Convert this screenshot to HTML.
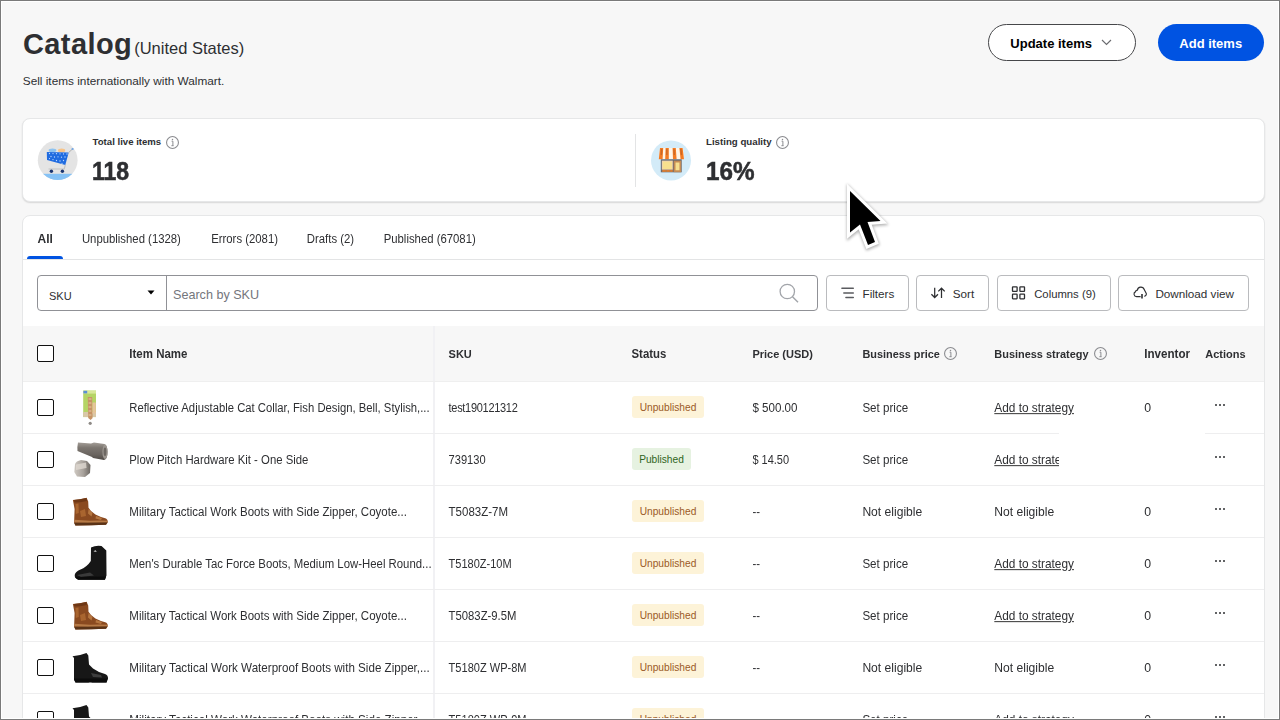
<!DOCTYPE html>
<html><head><meta charset="utf-8"><style>
*{box-sizing:border-box;margin:0;padding:0}
html,body{width:1280px;height:720px;overflow:hidden;background:#f7f7f7;font-family:"Liberation Sans",sans-serif}
.t{position:absolute;white-space:nowrap}
.abs{position:absolute}
.btn-o{position:absolute;border:1px solid #46474a;border-radius:20px;background:#fff;box-sizing:content-box}
.btn-b{position:absolute;border-radius:20px;background:#0053e2}
.card{position:absolute;background:#fff;border:1px solid #e6e7e8;border-radius:8px;box-shadow:0 1px 1.5px rgba(0,0,0,.13)}
.card2{position:absolute;background:#fff;border:1px solid #e6e7e8;border-radius:8px}
.box{position:absolute;border:1px solid #babbbe;border-radius:4px;background:#fff}
.info{position:absolute;width:12px;height:12px;border:1px solid #74767c;border-radius:50%}
.info:before{content:"";position:absolute;left:4.5px;top:2px;width:1px;height:1px;background:#74767c}
.info:after{content:"";position:absolute;left:4.5px;top:4px;width:1px;height:5px;background:#74767c}
.cb{position:absolute;width:17px;height:17px;border:1.5px solid #111;border-radius:2px;background:#fff}
.badge{position:absolute;height:22px;border-radius:3px;font-size:10.2px;line-height:24px;text-align:center}
.bu{background:#fdf3d8;color:#9b5a26}
.bp{background:#e6f2e1;color:#2f6521}
.dots{position:absolute;width:12px;height:3px}
.dots i{position:absolute;top:0;width:2px;height:2px;border-radius:50%;background:#2e2f32}
.dots i:nth-child(1){left:0.6px}.dots i:nth-child(2){left:4.8px}.dots i:nth-child(3){left:8.9px}
.frame{position:absolute;left:0;top:0;width:1280px;height:720px;border:1px solid #7a7a7a;box-shadow:inset 0 0 0 1px #fff;pointer-events:none;z-index:50}
</style></head>
<body>
<div class="t" style="left:23px;top:30.00px;font-size:29px;line-height:29px;font-weight:700;color:#2e2f32;letter-spacing:0.4px">Catalog</div>
<div class="t" style="left:134.2px;top:40.00px;font-size:16.5px;line-height:16.5px;font-weight:400;color:#2e2f32;">(United States)</div>
<div class="t" style="left:22.8px;top:76.00px;font-size:11.8px;line-height:11.8px;font-weight:400;color:#2e2f32;">Sell items internationally with Walmart.</div>
<div class="btn-o" style="left:988px;top:24px;width:146px;height:35px"></div>
<div class="t" style="left:1010.3px;top:37.00px;font-size:13px;line-height:13px;font-weight:700;color:#000;">Update items</div>
<svg class="abs" style="left:1101px;top:39px" width="11" height="7" viewBox="0 0 11 7"><path d="M1 1 L5.5 5.5 L10 1" fill="none" stroke="#6a6b6f" stroke-width="1.15"/></svg>
<div class="btn-b" style="left:1158px;top:24px;width:106px;height:37px"></div>
<div class="t" style="left:1179.3px;top:37.00px;font-size:13px;line-height:13px;font-weight:700;color:#fff;">Add items</div>
<div class="card" style="left:22px;top:118px;width:1243px;height:84px"></div>
<svg class="abs" style="left:37px;top:140px" width="41" height="41" viewBox="0 0 41 41">
<defs><clipPath id="c1"><circle cx="20.7" cy="20.2" r="19.9"/></clipPath></defs>
<circle cx="20.7" cy="20.2" r="19.9" fill="#e4e4e4"/>
<rect x="0" y="33.8" width="41" height="10" fill="#86c2f5" clip-path="url(#c1)"/>
<ellipse cx="15.5" cy="10.3" rx="3.9" ry="1.9" fill="#8ec3f0"/>
<ellipse cx="24.6" cy="10.4" rx="3.6" ry="1.9" fill="#f7c48a"/>
<path d="M9.8 11.9 L31.7 12.5 L28.3 25 L10 20 Z" fill="#1f6be0"/>
<g fill="#bcd8ff"><circle cx="12.5" cy="13.5" r=".65"/><circle cx="16" cy="13.6" r=".65"/><circle cx="19.5" cy="13.7" r=".65"/><circle cx="23" cy="13.8" r=".65"/><circle cx="26.5" cy="13.9" r=".65"/><circle cx="30" cy="14" r=".65"/>
<circle cx="14" cy="16.5" r=".65"/><circle cx="17.5" cy="17" r=".65"/><circle cx="21" cy="16.8" r=".65"/><circle cx="24.5" cy="17.2" r=".65"/><circle cx="28" cy="17" r=".65"/>
<circle cx="12.5" cy="18.6" r=".65"/><circle cx="16" cy="19.6" r=".65"/><circle cx="19.5" cy="20.5" r=".65"/><circle cx="23" cy="21" r=".65"/><circle cx="26.5" cy="20.5" r=".65"/><circle cx="25" cy="23.3" r=".65"/></g>
<path d="M28.3 25 L27.2 29 M11.5 29 H27.5" fill="none" stroke="#c2c2c2" stroke-width="1.1"/>
<path d="M31.7 12.5 L35.3 9.2" stroke="#b0b0b0" stroke-width="1"/>
<circle cx="35.6" cy="9" r="1.1" fill="#6fa6e6"/>
<circle cx="14.4" cy="31.2" r="1.7" fill="#1a3570"/><circle cx="25.4" cy="31.2" r="1.7" fill="#1a3570"/>
</svg>
<div class="t" style="left:92.6px;top:137.00px;font-size:9.6px;line-height:9.6px;font-weight:700;color:#2e2f32;">Total live items</div>
<svg class="abs" style="left:166.1px;top:136.2px" width="13" height="13" viewBox="0 0 13 13"><circle cx="6.5" cy="6.5" r="5.95" fill="none" stroke="#8b8c90" stroke-width="1.1"/><path d="M5.6 5.2 H6.9 V9.6 M5.4 9.7 H7.6" fill="none" stroke="#8b8c90" stroke-width="1"/><circle cx="6.5" cy="3.6" r=".75" fill="#8b8c90"/></svg>
<div class="t" style="left:92.4px;top:158.00px;font-size:26.5px;line-height:26.5px;font-weight:700;color:#2e2f32;transform:scaleX(0.87);transform-origin:0 0;-webkit-text-stroke:0.55px #2e2f32">118</div>
<div class="abs" style="left:635px;top:134px;width:1px;height:53px;background:#e3e4e5"></div>
<svg class="abs" style="left:651px;top:140px" width="41" height="41" viewBox="0 0 41 41">
<circle cx="20" cy="20.4" r="20" fill="#d3ebf8"/>
<path d="M9 8 L32 8 L33 19.3 L7.8 19.3 Z" fill="#fff4e6"/>
<path d="M9 8 L12.2 8 L11.6 19.3 L7.8 19.3 Z M14.6 8 L17.8 8 L17.8 19.3 L14.2 19.3 Z M21.6 8 L24.8 8 L25.6 19.3 L22 19.3 Z M28.4 8 L31.6 8 L33 19.3 L29.6 19.3 Z" fill="#f37a22"/>
<path d="M10 9 L11.4 9 L11 15 L9.6 15 Z M15.2 9 L16.5 9 L16.5 15 L15.2 15 Z M22.3 9 L23.6 9 L24 15 L22.7 15 Z M29.2 9 L30.5 9 L31.2 15 L29.9 15 Z" fill="#b85f28" opacity=".7"/>
<rect x="9.8" y="19.3" width="20.9" height="13" fill="#5d6572"/>
<rect x="10.8" y="20.6" width="11" height="9.2" fill="#f1d3ae"/>
<rect x="11.8" y="21.6" width="9.2" height="7.4" fill="#f8e08e"/>
<rect x="10.8" y="29.8" width="11" height="2.2" fill="#b97d4b"/>
<path d="M12 30.9 H14.5 M15.8 30.9 H18.3 M19.5 30.9 H21.5" stroke="#f37a22" stroke-width="1"/>
<rect x="22.6" y="20.6" width="7.6" height="11.6" fill="#c48b55"/>
<rect x="24.5" y="22.5" width="4" height="7.8" fill="#f6df8e"/>
</svg>
<div class="t" style="left:706px;top:137.00px;font-size:9.7px;line-height:9.7px;font-weight:700;color:#2e2f32;">Listing quality</div>
<svg class="abs" style="left:776px;top:136.4px" width="13" height="13" viewBox="0 0 13 13"><circle cx="6.5" cy="6.5" r="5.95" fill="none" stroke="#8b8c90" stroke-width="1.1"/><path d="M5.6 5.2 H6.9 V9.6 M5.4 9.7 H7.6" fill="none" stroke="#8b8c90" stroke-width="1"/><circle cx="6.5" cy="3.6" r=".75" fill="#8b8c90"/></svg>
<div class="t" style="left:705.9px;top:158.00px;font-size:26.5px;line-height:26.5px;font-weight:700;color:#2e2f32;transform:scaleX(0.915);transform-origin:0 0;-webkit-text-stroke:0.55px #2e2f32">16%</div>
<div class="card2" style="left:22px;top:215px;width:1243px;height:520px"></div>
<div class="t" style="left:37.5px;top:233.00px;font-size:12px;line-height:12px;font-weight:700;color:#2e2f32;;transform:scaleY(1.05);transform-origin:0 10.10px">All</div>
<div class="t" style="left:81.9px;top:234.00px;font-size:11.35px;line-height:11.35px;font-weight:400;color:#2e2f32;;transform:scaleY(1.1);transform-origin:0 9.20px">Unpublished (1328)</div>
<div class="t" style="left:211.2px;top:234.00px;font-size:11.35px;line-height:11.35px;font-weight:400;color:#2e2f32;;transform:scaleY(1.1);transform-origin:0 9.20px">Errors (2081)</div>
<div class="t" style="left:306.8px;top:234.00px;font-size:11.35px;line-height:11.35px;font-weight:400;color:#2e2f32;;transform:scaleY(1.1);transform-origin:0 9.20px">Drafts (2)</div>
<div class="t" style="left:383.7px;top:234.00px;font-size:11.35px;line-height:11.35px;font-weight:400;color:#2e2f32;;transform:scaleY(1.1);transform-origin:0 9.20px">Published (67081)</div>
<div class="abs" style="left:23px;top:259px;width:1241px;height:1px;background:#e3e4e5"></div>
<div class="abs" style="left:27px;top:256px;width:36px;height:3px;background:#0053e2;border-radius:3px 3px 0 0"></div>
<div class="box" style="left:37px;top:275px;width:781px;height:36px;border-color:#909196"></div>
<div class="abs" style="left:166px;top:276px;width:1px;height:34px;background:#909196"></div>
<div class="t" style="left:49px;top:291.00px;font-size:11px;line-height:11px;font-weight:400;color:#2e2f32;">SKU</div>
<svg class="abs" style="left:147px;top:290px" width="8" height="5" viewBox="0 0 8 5"><path d="M0.5 0.5 L7.5 0.5 L4 4.5 Z" fill="#000"/></svg>
<div class="t" style="left:173px;top:289.00px;font-size:12.6px;line-height:12.6px;font-weight:400;color:#74767c;">Search by SKU</div>
<svg class="abs" style="left:777px;top:282px" width="24" height="24" viewBox="0 0 24 24"><circle cx="10.3" cy="9.5" r="7.2" fill="none" stroke="#a2a5aa" stroke-width="1.3"/><path d="M15.5 14.8 L21 20.3" stroke="#a2a5aa" stroke-width="1.4"/></svg>
<div class="box" style="left:826px;top:275px;width:83px;height:36px"></div>
<div class="box" style="left:916px;top:275px;width:73px;height:36px"></div>
<div class="box" style="left:997px;top:275px;width:114px;height:36px"></div>
<div class="box" style="left:1118px;top:275px;width:131px;height:36px"></div>
<svg class="abs" style="left:840px;top:286px" width="16" height="14" viewBox="0 0 16 14"><path d="M1.9 2.3 H13.3 M3.8 6.9 H13.3 M5.9 11.5 H13.3" stroke="#5a5b5f" stroke-width="1.45" stroke-linecap="round"/></svg>
<div class="t" style="left:862.5px;top:288.00px;font-size:11.7px;line-height:11.7px;font-weight:400;color:#2e2f32;">Filters</div>
<svg class="abs" style="left:930px;top:285px" width="17" height="15" viewBox="0 0 17 15"><path d="M4.7 2.8 V12.4 M1.4 9.2 L4.7 12.5 L8 9.2 M11.5 13 V3.3 M8.3 6.4 L11.5 3.2 L14.7 6.4" fill="none" stroke="#2e2f32" stroke-width="1.25"/></svg>
<div class="t" style="left:952.8px;top:288.00px;font-size:11.7px;line-height:11.7px;font-weight:400;color:#2e2f32;">Sort</div>
<svg class="abs" style="left:1011px;top:285px" width="15" height="15" viewBox="0 0 15 15"><g fill="none" stroke="#2e2f32" stroke-width="1.3"><rect x="1.5" y="1.8" width="4.6" height="4.6" rx=".5"/><rect x="8.9" y="1.8" width="4.6" height="4.6" rx=".5"/><rect x="1.5" y="9.2" width="4.6" height="4.6" rx=".5"/><rect x="8.9" y="9.2" width="4.6" height="4.6" rx=".5"/></g></svg>
<div class="t" style="left:1034.2px;top:289.00px;font-size:11.3px;line-height:11.3px;font-weight:400;color:#2e2f32;">Columns (9)</div>
<svg class="abs" style="left:1132px;top:284px" width="17" height="16" viewBox="0 0 17 16"><path d="M8.6 12.6 H4.6 A2.6 2.6 0 0 1 3.6 7.6 A1.6 1.6 0 0 1 5.4 6.2 A3.5 3.5 0 0 1 12.2 5.6 L14.3 9.6 A2.3 2.3 0 0 1 12.2 12.3" fill="none" stroke="#2e2f32" stroke-width="1.15" stroke-linejoin="round"/><path d="M10 10 V14.5" fill="none" stroke="#2e2f32" stroke-width="1.6"/></svg>
<div class="t" style="left:1155.4px;top:288.00px;font-size:11.7px;line-height:11.7px;font-weight:400;color:#2e2f32;">Download view</div>
<div class="abs" style="left:23px;top:326px;width:1241px;height:55px;background:#f7f7f7"></div>
<div class="abs" style="left:433px;top:326px;width:2px;height:400px;background:#f1f1f4"></div>
<div class="abs" style="left:23px;top:380.5px;width:1241px;height:1.5px;background:#efefef"></div>
<div class="cb" style="left:37px;top:345px"></div>
<div class="t" style="left:129.3px;top:349.00px;font-size:11.5px;line-height:11.5px;font-weight:700;color:#2e2f32;;transform:scaleY(1.05);transform-origin:0 9.00px">Item Name</div>
<div class="t" style="left:448.6px;top:349.00px;font-size:11px;line-height:11px;font-weight:700;color:#2e2f32;;transform:scaleY(1.05);transform-origin:0 9.00px">SKU</div>
<div class="t" style="left:631.5px;top:349.00px;font-size:11.4px;line-height:11.4px;font-weight:700;color:#2e2f32;;transform:scaleY(1.05);transform-origin:0 9.00px">Status</div>
<div class="t" style="left:752.4px;top:349.00px;font-size:11px;line-height:11px;font-weight:700;color:#2e2f32;;transform:scaleY(1.05);transform-origin:0 9.00px">Price (USD)</div>
<div class="t" style="left:862.4px;top:349.00px;font-size:10.9px;line-height:10.9px;font-weight:700;color:#2e2f32;;transform:scaleY(1.05);transform-origin:0 9.00px">Business price</div>
<div class="t" style="left:994.3px;top:349.00px;font-size:10.95px;line-height:10.95px;font-weight:700;color:#2e2f32;;transform:scaleY(1.05);transform-origin:0 9.00px">Business strategy</div>
<div class="t" style="left:1144.3px;top:348.00px;font-size:11.6px;line-height:11.6px;font-weight:700;color:#2e2f32;;transform:scaleY(1.05);transform-origin:0 10.00px">Inventor</div>
<div class="t" style="left:1205.2px;top:349.00px;font-size:11px;line-height:11px;font-weight:700;color:#2e2f32;;transform:scaleY(1.05);transform-origin:0 9.00px">Actions</div>
<svg class="abs" style="left:943.5px;top:347px" width="13" height="13" viewBox="0 0 13 13"><circle cx="6.5" cy="6.5" r="5.95" fill="none" stroke="#8b8c90" stroke-width="1.1"/><path d="M5.6 5.2 H6.9 V9.6 M5.4 9.7 H7.6" fill="none" stroke="#8b8c90" stroke-width="1"/><circle cx="6.5" cy="3.6" r=".75" fill="#8b8c90"/></svg>
<svg class="abs" style="left:1093.5px;top:347px" width="13" height="13" viewBox="0 0 13 13"><circle cx="6.5" cy="6.5" r="5.95" fill="none" stroke="#8b8c90" stroke-width="1.1"/><path d="M5.6 5.2 H6.9 V9.6 M5.4 9.7 H7.6" fill="none" stroke="#8b8c90" stroke-width="1"/><circle cx="6.5" cy="3.6" r=".75" fill="#8b8c90"/></svg>
<div class="cb" style="left:37px;top:399px"></div>
<svg class="abs" style="left:66px;top:385px" width="50" height="50" viewBox="0 0 50 50"><rect x="17.2" y="5.6" width="12.8" height="26.5" fill="#b5d465"/>
<rect x="17.2" y="5.6" width="12.8" height="3" fill="#d8e89a"/><rect x="17.4" y="5.8" width="3.8" height="2.6" fill="#5b8fd8"/>
<rect x="17.2" y="27" width="12.8" height="5" fill="#d9c8a8"/>
<path d="M21.8 12 L26.2 12 L26.6 33 L24.6 35 L22.2 33 Z" fill="#c69466"/>
<path d="M22.6 14 L25.4 14 M22.6 18 L25.4 18 M22.6 22 L25.4 22 M22.6 26 L25.4 26 M22.6 30 L25.4 30" stroke="#e8c9a4" stroke-width="1"/>
<rect x="26.5" y="17.5" width="3.3" height="11" fill="#e6c49a"/>
<circle cx="24.2" cy="38.3" r="1.6" fill="#8e8a86"/></svg>
<div class="t" style="left:129.3px;top:403.00px;font-size:11.29px;line-height:11.29px;font-weight:400;color:#2e2f32;;transform:scaleY(1.1);transform-origin:0 9.10px">Reflective Adjustable Cat Collar, Fish Design, Bell, Stylish,...</div>
<div class="t" style="left:448.6px;top:403.00px;font-size:11px;line-height:11px;font-weight:400;color:#2e2f32;letter-spacing:-0.3px;transform:scaleY(1.1);transform-origin:0 9.10px">test190121312</div>
<div class="badge bu" style="left:632px;top:396px;width:72px">Unpublished</div>
<div class="t" style="left:752.4px;top:402.00px;font-size:11.6px;line-height:11.6px;font-weight:400;color:#2e2f32;;transform:scaleY(1.1);transform-origin:0 10.10px">$ 500.00</div>
<div class="t" style="left:862.4px;top:402.00px;font-size:11.6px;line-height:11.6px;font-weight:400;color:#2e2f32;;transform:scaleY(1.08);transform-origin:0 10.10px">Set price</div>
<div class="t" style="left:994.3px;top:403.00px;font-size:11.85px;line-height:11.85px;font-weight:400;color:#2e2f32;text-decoration:underline;text-decoration-color:#444;text-underline-offset:1px;transform:scaleY(1.08);transform-origin:0 9.10px">Add to strategy</div>
<div class="t" style="left:1144.2px;top:402.00px;font-size:12.3px;line-height:12.3px;font-weight:400;color:#2e2f32;;transform:scaleY(1.05);transform-origin:0 10.30px">0</div>
<div class="dots" style="left:1214px;top:404.3px"><i></i><i></i><i></i></div>
<div class="abs" style="left:23px;top:433px;width:1241px;height:1px;background:#eeeeef"></div>
<div class="cb" style="left:37px;top:451px"></div>
<svg class="abs" style="left:66px;top:437px" width="50" height="50" viewBox="0 0 50 50"><defs><linearGradient id="gb" x1="0" y1="0" x2="0" y2="1"><stop offset="0" stop-color="#a39d97"/><stop offset=".3" stop-color="#7c7670"/><stop offset=".7" stop-color="#6a645f"/><stop offset="1" stop-color="#4f4a46"/></linearGradient>
<linearGradient id="gn" x1="0" y1="0" x2="1" y2="0"><stop offset="0" stop-color="#cfc9c2"/><stop offset=".55" stop-color="#a8a29c"/><stop offset="1" stop-color="#6d6863"/></linearGradient></defs>
<path d="M12 5.5 Q11 10 11.5 14 L26 20 L27 21 L38 23 Q41.5 22 41.5 15 Q41.5 8.5 38.5 7 L28 5.5 L25 6.5 Z" fill="url(#gb)"/>
<ellipse cx="39" cy="14.8" rx="2.6" ry="7.2" fill="#9c9690"/><ellipse cx="39" cy="14.8" rx="1.4" ry="4.3" fill="#6c6762"/>
<path d="M9 27 Q10 24 15 23 L21 24 L24.5 28 L24 36 L19 40 L11 39.5 L8.3 35 Z" fill="url(#gn)"/>
<path d="M10 27.5 L20 25.5 L20.5 31 L10 33 Z" fill="#ddd7cf" opacity=".8"/></svg>
<div class="t" style="left:129.3px;top:455.00px;font-size:11.35px;line-height:11.35px;font-weight:400;color:#2e2f32;;transform:scaleY(1.1);transform-origin:0 9.10px">Plow Pitch Hardware Kit - One Side</div>
<div class="t" style="left:448.6px;top:455.00px;font-size:11.1px;line-height:11.1px;font-weight:400;color:#2e2f32;;transform:scaleY(1.1);transform-origin:0 9.10px">739130</div>
<div class="badge bp" style="left:632px;top:448px;width:59px">Published</div>
<div class="t" style="left:752.4px;top:455.00px;font-size:11.0px;line-height:11.0px;font-weight:400;color:#2e2f32;;transform:scaleY(1.1);transform-origin:0 9.10px">$ 14.50</div>
<div class="t" style="left:862.4px;top:454.00px;font-size:11.6px;line-height:11.6px;font-weight:400;color:#2e2f32;;transform:scaleY(1.08);transform-origin:0 10.10px">Set price</div>
<div class="t" style="left:994.3px;top:455.00px;font-size:11.85px;line-height:11.85px;font-weight:400;color:#2e2f32;text-decoration:underline;text-decoration-color:#444;text-underline-offset:1px;transform:scaleY(1.08);transform-origin:0 9.10px">Add to strategy</div>
<div class="dots" style="left:1214px;top:456.3px"><i></i><i></i><i></i></div>
<div class="abs" style="left:23px;top:485px;width:1241px;height:1px;background:#eeeeef"></div>
<div class="cb" style="left:37px;top:503px"></div>
<svg class="abs" style="left:66px;top:489px" width="50" height="50" viewBox="0 0 50 50"><path d="M6.9 10.9 Q14 10.5 20.6 8.7 L22.2 12.5 L22.5 18.8 L25 21.9 L29.4 25.6 L35 28.1 L40 29.4 Q42.2 30.5 41.6 33.7 L40 35.8 L25 36.3 L9.4 36.4 L8.1 33.7 L8.6 20 Z" fill="#8a4a20"/>
<path d="M8 11 Q14 10.6 20.5 9 L21 12 Q14 13.5 8.3 13.5 Z" fill="#6e3715"/>
<path d="M9.5 15 L12.5 14.5 L12.8 24 L9.8 25 Z M14 22 L19 20 L20 27 L15 28 Z" fill="#a9652f"/>
<path d="M22.6 20 L26.5 24 L25.5 27.5 L22 24.5 Z M30 27 L36 29 L35 31 L29.5 29.5 Z" fill="#b57640"/>
<path d="M8.3 30.8 L24 31.8 L34 31.5 L41.7 31.8 L41.4 33.5 L22 34 L8.4 33.6 Z" fill="#b67a46"/>
<path d="M8.2 33.8 L41.4 33.6 L40 35.8 L25 36.3 L9.4 36.4 Z" fill="#5a3317"/></svg>
<div class="t" style="left:129.3px;top:507.00px;font-size:11.5px;line-height:11.5px;font-weight:400;color:#2e2f32;;transform:scaleY(1.1);transform-origin:0 9.10px">Military Tactical Work Boots with Side Zipper, Coyote...</div>
<div class="t" style="left:448.6px;top:507.00px;font-size:11.5px;line-height:11.5px;font-weight:400;color:#2e2f32;;transform:scaleY(1.1);transform-origin:0 9.10px">T5083Z-7M</div>
<div class="badge bu" style="left:632px;top:500px;width:72px">Unpublished</div>
<div class="t" style="left:752.4px;top:507.00px;font-size:11.4px;line-height:11.4px;font-weight:400;color:#2e2f32;;transform:scaleY(1.1);transform-origin:0 9.10px">--</div>
<div class="t" style="left:862.4px;top:506.00px;font-size:12.1px;line-height:12.1px;font-weight:400;color:#2e2f32;;transform:scaleY(1.08);transform-origin:0 10.10px">Not eligible</div>
<div class="t" style="left:994.3px;top:506.00px;font-size:12.1px;line-height:12.1px;font-weight:400;color:#2e2f32;;transform:scaleY(1.08);transform-origin:0 10.10px">Not eligible</div>
<div class="t" style="left:1144.2px;top:506.00px;font-size:12.3px;line-height:12.3px;font-weight:400;color:#2e2f32;;transform:scaleY(1.05);transform-origin:0 10.30px">0</div>
<div class="dots" style="left:1214px;top:508.3px"><i></i><i></i><i></i></div>
<div class="abs" style="left:23px;top:537px;width:1241px;height:1px;background:#eeeeef"></div>
<div class="cb" style="left:37px;top:555px"></div>
<svg class="abs" style="left:66px;top:541px" width="50" height="50" viewBox="0 0 50 50"><path d="M25 6.5 Q30 4 35.5 5 L40.3 9.5 L40.5 34.5 L38.8 38.7 L12.5 38.8 Q8.5 37.8 8.7 34 Q9.5 30.5 14 28.8 Q21 26 24.8 20 Z" fill="#161616"/>
<path d="M11 34 L24 31.5 L28 34.5 L15 36 Z" fill="#3a3a3a"/>
<path d="M27.5 10.5 L29.3 9 L30.8 11 Z" fill="#c8c8c8"/>
<path d="M9 36 L40 35.5 L39 38.7 L12 38.8 Z" fill="#0b0b0b"/></svg>
<div class="t" style="left:129.3px;top:559.00px;font-size:11.38px;line-height:11.38px;font-weight:400;color:#2e2f32;;transform:scaleY(1.1);transform-origin:0 9.10px">Men&#39;s Durable Tac Force Boots, Medium Low-Heel Round...</div>
<div class="t" style="left:448.6px;top:559.00px;font-size:11.0px;line-height:11.0px;font-weight:400;color:#2e2f32;;transform:scaleY(1.1);transform-origin:0 9.10px">T5180Z-10M</div>
<div class="badge bu" style="left:632px;top:552px;width:72px">Unpublished</div>
<div class="t" style="left:752.4px;top:559.00px;font-size:11.4px;line-height:11.4px;font-weight:400;color:#2e2f32;;transform:scaleY(1.1);transform-origin:0 9.10px">--</div>
<div class="t" style="left:862.4px;top:558.00px;font-size:11.6px;line-height:11.6px;font-weight:400;color:#2e2f32;;transform:scaleY(1.08);transform-origin:0 10.10px">Set price</div>
<div class="t" style="left:994.3px;top:559.00px;font-size:11.85px;line-height:11.85px;font-weight:400;color:#2e2f32;text-decoration:underline;text-decoration-color:#444;text-underline-offset:1px;transform:scaleY(1.08);transform-origin:0 9.10px">Add to strategy</div>
<div class="t" style="left:1144.2px;top:558.00px;font-size:12.3px;line-height:12.3px;font-weight:400;color:#2e2f32;;transform:scaleY(1.05);transform-origin:0 10.30px">0</div>
<div class="dots" style="left:1214px;top:560.3px"><i></i><i></i><i></i></div>
<div class="abs" style="left:23px;top:589px;width:1241px;height:1px;background:#eeeeef"></div>
<div class="cb" style="left:37px;top:607px"></div>
<svg class="abs" style="left:66px;top:593px" width="50" height="50" viewBox="0 0 50 50"><path d="M6.9 10.9 Q14 10.5 20.6 8.7 L22.2 12.5 L22.5 18.8 L25 21.9 L29.4 25.6 L35 28.1 L40 29.4 Q42.2 30.5 41.6 33.7 L40 35.8 L25 36.3 L9.4 36.4 L8.1 33.7 L8.6 20 Z" fill="#8a4a20"/>
<path d="M8 11 Q14 10.6 20.5 9 L21 12 Q14 13.5 8.3 13.5 Z" fill="#6e3715"/>
<path d="M9.5 15 L12.5 14.5 L12.8 24 L9.8 25 Z M14 22 L19 20 L20 27 L15 28 Z" fill="#a9652f"/>
<path d="M22.6 20 L26.5 24 L25.5 27.5 L22 24.5 Z M30 27 L36 29 L35 31 L29.5 29.5 Z" fill="#b57640"/>
<path d="M8.3 30.8 L24 31.8 L34 31.5 L41.7 31.8 L41.4 33.5 L22 34 L8.4 33.6 Z" fill="#b67a46"/>
<path d="M8.2 33.8 L41.4 33.6 L40 35.8 L25 36.3 L9.4 36.4 Z" fill="#5a3317"/></svg>
<div class="t" style="left:129.3px;top:611.00px;font-size:11.5px;line-height:11.5px;font-weight:400;color:#2e2f32;;transform:scaleY(1.1);transform-origin:0 9.10px">Military Tactical Work Boots with Side Zipper, Coyote...</div>
<div class="t" style="left:448.6px;top:611.00px;font-size:11.3px;line-height:11.3px;font-weight:400;color:#2e2f32;;transform:scaleY(1.1);transform-origin:0 9.10px">T5083Z-9.5M</div>
<div class="badge bu" style="left:632px;top:604px;width:72px">Unpublished</div>
<div class="t" style="left:752.4px;top:611.00px;font-size:11.4px;line-height:11.4px;font-weight:400;color:#2e2f32;;transform:scaleY(1.1);transform-origin:0 9.10px">--</div>
<div class="t" style="left:862.4px;top:610.00px;font-size:11.6px;line-height:11.6px;font-weight:400;color:#2e2f32;;transform:scaleY(1.08);transform-origin:0 10.10px">Set price</div>
<div class="t" style="left:994.3px;top:611.00px;font-size:11.85px;line-height:11.85px;font-weight:400;color:#2e2f32;text-decoration:underline;text-decoration-color:#444;text-underline-offset:1px;transform:scaleY(1.08);transform-origin:0 9.10px">Add to strategy</div>
<div class="t" style="left:1144.2px;top:610.00px;font-size:12.3px;line-height:12.3px;font-weight:400;color:#2e2f32;;transform:scaleY(1.05);transform-origin:0 10.30px">0</div>
<div class="dots" style="left:1214px;top:612.3px"><i></i><i></i><i></i></div>
<div class="abs" style="left:23px;top:641px;width:1241px;height:1px;background:#eeeeef"></div>
<div class="cb" style="left:37px;top:659px"></div>
<svg class="abs" style="left:66px;top:645px" width="50" height="50" viewBox="0 0 50 50"><path d="M6.5 11.2 Q13 11 20.5 8 L22.3 10.5 L23 19.5 L27 23.5 L33 27 L39 29 Q42.3 30.3 42 33.8 L40.5 37.5 L26 37.6 L24.5 36.6 L22.5 37.6 L9.5 37.6 L8 35 L8 13 Z" fill="#171717"/>
<path d="M25 28 L35 30 L36 32.5 L27 32 Z" fill="#3d3d3d"/>
<path d="M8 33.5 L41.5 33.5 L40.5 37.6 L9.5 37.6 Z" fill="#0c0c0c"/></svg>
<div class="t" style="left:129.3px;top:662.00px;font-size:11.62px;line-height:11.62px;font-weight:400;color:#2e2f32;;transform:scaleY(1.1);transform-origin:0 10.10px">Military Tactical Work Waterproof Boots with Side Zipper,...</div>
<div class="t" style="left:448.6px;top:663.00px;font-size:11.05px;line-height:11.05px;font-weight:400;color:#2e2f32;;transform:scaleY(1.1);transform-origin:0 9.10px">T5180Z WP-8M</div>
<div class="badge bu" style="left:632px;top:656px;width:72px">Unpublished</div>
<div class="t" style="left:752.4px;top:663.00px;font-size:11.4px;line-height:11.4px;font-weight:400;color:#2e2f32;;transform:scaleY(1.1);transform-origin:0 9.10px">--</div>
<div class="t" style="left:862.4px;top:662.00px;font-size:12.1px;line-height:12.1px;font-weight:400;color:#2e2f32;;transform:scaleY(1.08);transform-origin:0 10.10px">Not eligible</div>
<div class="t" style="left:994.3px;top:662.00px;font-size:12.1px;line-height:12.1px;font-weight:400;color:#2e2f32;;transform:scaleY(1.08);transform-origin:0 10.10px">Not eligible</div>
<div class="t" style="left:1144.2px;top:662.00px;font-size:12.3px;line-height:12.3px;font-weight:400;color:#2e2f32;;transform:scaleY(1.05);transform-origin:0 10.30px">0</div>
<div class="dots" style="left:1214px;top:664.3px"><i></i><i></i><i></i></div>
<div class="abs" style="left:23px;top:693px;width:1241px;height:1px;background:#eeeeef"></div>
<div class="cb" style="left:37px;top:711px"></div>
<svg class="abs" style="left:66px;top:697px" width="50" height="50" viewBox="0 0 50 50"><path d="M6.5 11.2 Q13 11 20.5 8 L22.3 10.5 L23 19.5 L27 23.5 L33 27 L39 29 Q42.3 30.3 42 33.8 L40.5 37.5 L26 37.6 L24.5 36.6 L22.5 37.6 L9.5 37.6 L8 35 L8 13 Z" fill="#171717"/>
<path d="M25 28 L35 30 L36 32.5 L27 32 Z" fill="#3d3d3d"/>
<path d="M8 33.5 L41.5 33.5 L40.5 37.6 L9.5 37.6 Z" fill="#0c0c0c"/></svg>
<div class="t" style="left:129.3px;top:714.00px;font-size:11.62px;line-height:11.62px;font-weight:400;color:#2e2f32;;transform:scaleY(1.1);transform-origin:0 10.10px">Military Tactical Work Waterproof Boots with Side Zipper,...</div>
<div class="t" style="left:448.6px;top:715.00px;font-size:11.05px;line-height:11.05px;font-weight:400;color:#2e2f32;;transform:scaleY(1.1);transform-origin:0 9.10px">T5180Z WP-9M</div>
<div class="badge bu" style="left:632px;top:708px;width:72px">Unpublished</div>
<div class="t" style="left:752.4px;top:715.00px;font-size:11.4px;line-height:11.4px;font-weight:400;color:#2e2f32;;transform:scaleY(1.1);transform-origin:0 9.10px">--</div>
<div class="t" style="left:862.4px;top:714.00px;font-size:11.6px;line-height:11.6px;font-weight:400;color:#2e2f32;;transform:scaleY(1.08);transform-origin:0 10.10px">Set price</div>
<div class="t" style="left:994.3px;top:715.00px;font-size:11.85px;line-height:11.85px;font-weight:400;color:#2e2f32;text-decoration:underline;text-decoration-color:#444;text-underline-offset:1px;transform:scaleY(1.08);transform-origin:0 9.10px">Add to strategy</div>
<div class="t" style="left:1144.2px;top:714.00px;font-size:12.3px;line-height:12.3px;font-weight:400;color:#2e2f32;;transform:scaleY(1.05);transform-origin:0 10.30px">0</div>
<div class="dots" style="left:1214px;top:716.3px"><i></i><i></i><i></i></div>
<div class="abs" style="left:1059px;top:433px;width:146px;height:52px;background:#fff"></div>
<svg class="abs" style="left:835px;top:176px;z-index:40;overflow:visible" width="60" height="80" viewBox="835 176 60 80">
<defs><filter id="sh" x="-50%" y="-50%" width="200%" height="200%"><feGaussianBlur stdDeviation="1.8"/></filter></defs>
<path d="M850 191 L850 232.5 L860 224.5 L868 245 L875 242 L867.5 222 L880.5 221 Z" fill="#000" opacity=".3" stroke="#000" stroke-width="7" stroke-linejoin="miter" stroke-miterlimit="12" filter="url(#sh)" transform="translate(0.3 1.2)"/>
<path d="M850 191 L850 232.5 L860 224.5 L868 245 L875 242 L867.5 222 L880.5 221 Z" fill="#000" stroke="#fff" stroke-width="6" stroke-linejoin="miter" stroke-miterlimit="12" paint-order="stroke"/>
</svg>
<div class="frame"></div>
</body></html>
